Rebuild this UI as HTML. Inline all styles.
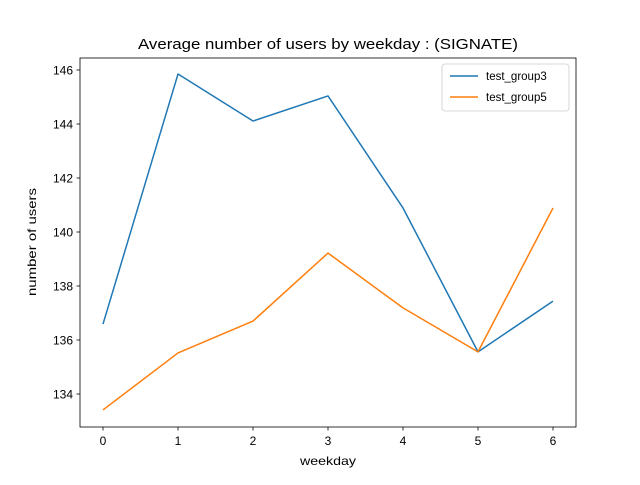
<!DOCTYPE html>
<html><head><meta charset="utf-8"><style>
body{margin:0;background:#fff;}
svg text{font-family:"Liberation Sans","IPAGothic",sans-serif;fill:#000;}
</style></head><body>
<svg id="chart" width="640" height="480" xmlns="http://www.w3.org/2000/svg">
<rect width="640" height="480" fill="#fff"/>
<text x="328" y="49" font-size="15" text-anchor="middle" textLength="380" lengthAdjust="spacingAndGlyphs">Average number of users by weekday : (SIGNATE)</text>
<g id="grid"></g>
<g id="series"></g>
<rect x="80" y="58" width="496" height="369" fill="none" stroke="#000" stroke-width="0.8"/>
<text x="328" y="465" font-size="12" text-anchor="middle" textLength="56" lengthAdjust="spacingAndGlyphs">weekday</text>
<text transform="translate(36,242) rotate(-90)" font-size="12" text-anchor="middle" textLength="108" lengthAdjust="spacingAndGlyphs">number of users</text>
<g>
<rect x="442" y="64" width="127" height="47" rx="3" fill="#fff" stroke="#ccc" stroke-width="0.8"/>
<line x1="450" y1="76" x2="478" y2="76" stroke="#1f77b4" stroke-width="1.5"/>
<text x="486" y="80" font-size="11.5">test_group3</text>
<line x1="450" y1="97" x2="478" y2="97" stroke="#ff7f0e" stroke-width="1.5"/>
<text x="486" y="101" font-size="11.5">test_group5</text>
</g>
</svg>
<script>
const categories=[0,1,2,3,4,5,6];
const group3=[136.59,145.85,144.11,145.04,140.89,135.56,137.44];
const group5=[133.41,135.52,136.70,139.22,137.19,135.56,140.89];
const yTicks=[134,136,138,140,142,144,146];
const NS="http://www.w3.org/2000/svg";
function xs(v){return 103+(v-0)*75;}
function ys(v){return 394-(v-134)*27;}
const grid=document.getElementById('grid');
const series=document.getElementById('series');
function mk(tag,attrs,parent){const e=document.createElementNS(NS,tag);for(const k in attrs)e.setAttribute(k,attrs[k]);parent.appendChild(e);return e;}
categories.forEach(c=>{
  const t=mk('line',{x1:xs(c),x2:xs(c),y1:427,y2:430.5,stroke:'#000','stroke-width':0.8},grid);
  
  
  const l=mk('text',{x:xs(c),y:445,'font-size':12,'text-anchor':'middle'},grid);
  l.textContent=c;
  
  
});
yTicks.forEach(v=>{
  const t=mk('line',{x1:76.5,x2:80,y1:ys(v),y2:ys(v),stroke:'#000','stroke-width':0.8},grid);
  
  
  const l=mk('text',{x:73,y:ys(v)+4.5,'font-size':12,'text-anchor':'end'},grid);
  l.textContent=v;
  
  
});
function line(vals,color,name){
  const p=mk('polyline',{points:vals.map((v,i)=>xs(categories[i])+','+ys(v)).join(' '),fill:'none',stroke:color,'stroke-width':1.5,'stroke-linejoin':'round'},series);
  
  
}
line(group3,'#1f77b4','line-test-group3');
line(group5,'#ff7f0e','line-test-group5');
</script>
</body></html>
